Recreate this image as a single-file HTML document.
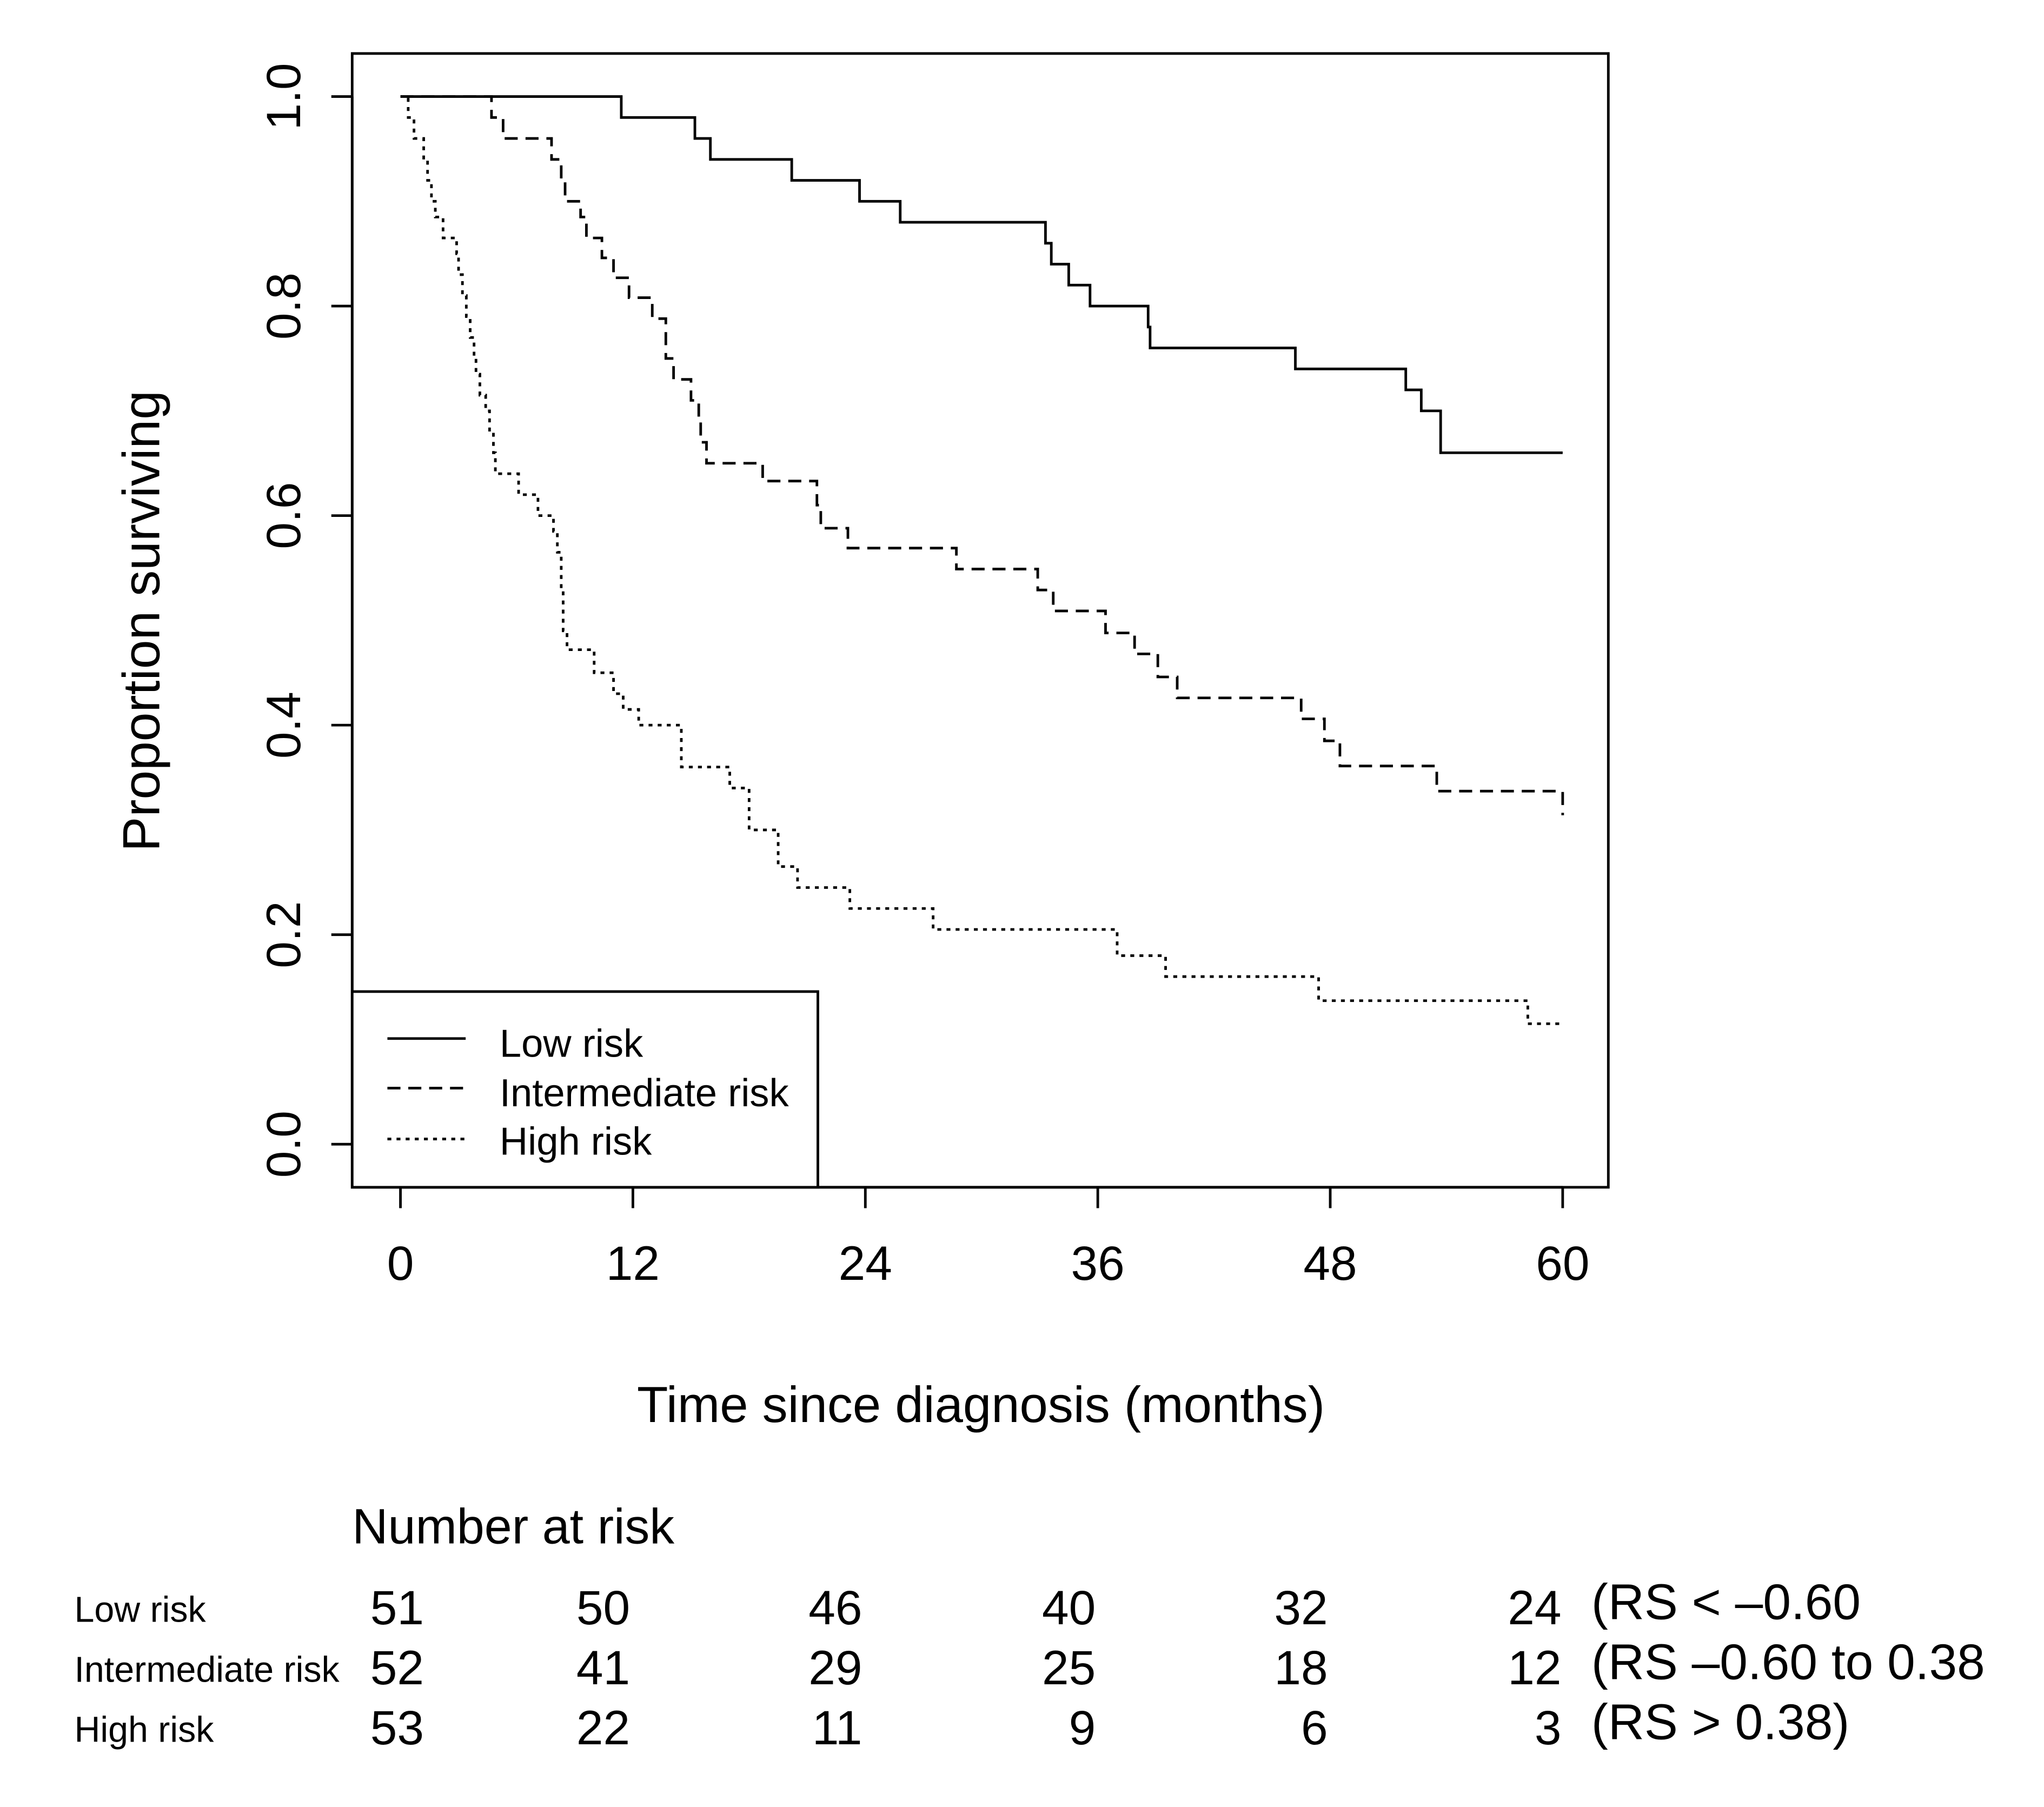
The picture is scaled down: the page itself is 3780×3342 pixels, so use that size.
<!DOCTYPE html>
<html><head><meta charset="utf-8"><style>
html,body{margin:0;padding:0;background:#fff;}
svg{display:block;font-family:"Liberation Sans",Arial,sans-serif;}
</style></head><body>
<svg id="chart" width="3780" height="3342" viewBox="0 0 1567 1385" preserveAspectRatio="none" xmlns="http://www.w3.org/2000/svg">
<rect x="270" y="41" width="963" height="869" fill="none" stroke="#000" stroke-width="2"/>
<g id="axes"></g>
<g id="series"></g>
<g>
<rect x="270" y="760" width="357" height="150" fill="#fff" stroke="#000" stroke-width="2"/>
<line x1="297" x2="357" y1="796" y2="796" stroke="#000" stroke-width="2"/>
<line x1="297" x2="357" y1="834" y2="834" stroke="#000" stroke-width="2" stroke-dasharray="10,6"/>
<line x1="297" x2="357" y1="873" y2="873" stroke="#000" stroke-width="2" stroke-dasharray="3,4"/>
<text x="383" y="810" font-size="30">Low risk</text>
<text x="383" y="848" font-size="30">Intermediate risk</text>
<text x="383" y="885" font-size="30">High risk</text>
</g>
<text transform="translate(122,476) rotate(-90)" text-anchor="middle" font-size="40">Proportion surviving</text>
<text x="752" y="1090" text-anchor="middle" font-size="39">Time since diagnosis (months)</text>
<text x="270" y="1183" font-size="38">Number at risk</text>
<g id="risktable"></g>
</svg>
<script>
const xTicks=[0,12,24,36,48,60];
const yTicks=[0,0.2,0.4,0.6,0.8,1.0];
const yTickLabels=["0.0","0.2","0.4","0.6","0.8","1.0"];
const lowTimes=[11.4,15.2,16.0,20.2,23.7,25.8,33.3,33.6,34.5,35.6,38.6,38.7,46.2,51.9,52.7,53.7];
const lowSurv=[.98,.96,.94,.92,.90,.88,.86,.84,.82,.80,.78,.76,.74,.72,.70,.66];
const intTimes=[4.7,5.3,7.8,8.3,8.5,9.3,9.6,10.4,11.0,11.8,13.0,13.7,14.1,15.0,15.4,15.5,15.8,18.7,21.5,21.7,23.1,28.7,32.9,33.7,36.4,37.9,39.1,40.1,46.5,47.7,48.5,53.5,60];
const intSurv=[.98,.96,.94,.92,.90,.885,.865,.846,.827,.808,.788,.75,.73,.71,.69,.67,.65,.633,.61,.588,.569,.549,.529,.509,.488,.468,.446,.426,.406,.385,.361,.337,.314];
const highTimes=[0.4,0.7,1.2,1.4,1.6,1.8,2.2,2.9,3.0,3.2,3.4,3.6,3.8,3.9,4.1,4.4,4.6,4.8,4.9,6.1,7.1,7.9,8.1,8.3,8.4,8.6,10.0,11.0,11.5,12.3,14.5,17.0,18.0,19.5,20.5,23.2,27.5,37.0,39.5,47.4,58.2];
const highSurv=[.98,.96,.94,.92,.90,.885,.865,.85,.83,.81,.79,.77,.75,.735,.715,.70,.68,.66,.64,.62,.60,.585,.565,.53,.49,.472,.45,.43,.415,.40,.36,.34,.30,.265,.245,.225,.205,.18,.16,.137,.115];
const riskGroups=["Low risk","Intermediate risk","High risk"];
const riskLow=[51,50,46,40,32,24];
const riskInt=[52,41,29,25,18,12];
const riskHigh=[53,22,11,9,6,3];
const riskNotes=["(RS < \u20130.60","(RS \u20130.60 to 0.38","(RS > 0.38)"];

const NS="http://www.w3.org/2000/svg";
const xs=t=>307+t*(1198-307)/60;
const ys=v=>877-v*(877-74);
function mk(tag,attrs,parent){const e=document.createElementNS(NS,tag);for(const k in attrs)e.setAttribute(k,attrs[k]);parent.appendChild(e);return e;}
const axes=document.getElementById('axes');
const xa=mk('line',{x1:xs(0),x2:xs(60),y1:910,y2:910,stroke:'#000','stroke-width':2},axes);


xTicks.forEach(t=>{
 const l=mk('line',{x1:xs(t),x2:xs(t),y1:910,y2:926,stroke:'#000','stroke-width':2},axes);
 
 
 const tx=mk('text',{x:xs(t),y:981,'text-anchor':'middle','font-size':37},axes);tx.textContent=t;
 
 
});
const ya=mk('line',{x1:270,x2:270,y1:ys(0),y2:ys(1),stroke:'#000','stroke-width':2},axes);


yTicks.forEach((v,i)=>{
 const l=mk('line',{x1:254,x2:270,y1:ys(v),y2:ys(v),stroke:'#000','stroke-width':2},axes);
 
 
 const tx=mk('text',{transform:`translate(230,${ys(v)}) rotate(-90)`,'text-anchor':'middle','font-size':37},axes);tx.textContent=yTickLabels[i];
 
 
});
const series=document.getElementById('series');
function step(times,surv,end){
 let d=`M${xs(0)},${ys(1)}`;
 times.forEach((t,i)=>{d+=` H${xs(t)} V${ys(surv[i])}`;});
 if(end!==undefined&&times[times.length-1]<end)d+=` H${xs(end)}`;
 return d;
}
const p1=mk('path',{d:step(lowTimes,lowSurv,60),fill:'none',stroke:'#000','stroke-width':2},series);


const p2=mk('path',{d:step(intTimes,intSurv,60),fill:'none',stroke:'#000','stroke-width':2,'stroke-dasharray':'10,6'},series);


const p3=mk('path',{d:step(highTimes,highSurv,60),fill:'none',stroke:'#000','stroke-width':2,'stroke-dasharray':'3,4'},series);


const rt=document.getElementById('risktable');
const rows=[riskLow,riskInt,riskHigh];
const rowY=[1245,1291,1337];
const numRight=[325,483,661,840,1018,1197];
rows.forEach((r,ri)=>{
 const lb=mk('text',{x:57,y:rowY[ri]-2,'font-size':27.5},rt);lb.textContent=riskGroups[ri];
 
 
 r.forEach((n,ci)=>{
  const tx=mk('text',{x:numRight[ci],y:rowY[ri],'text-anchor':'end','font-size':37},rt);tx.textContent=n;
  
  
 });
 const nt=mk('text',{x:1220,y:rowY[ri]-4,'font-size':38.5},rt);nt.textContent=riskNotes[ri];
 
 
});
</script>
</body></html>
